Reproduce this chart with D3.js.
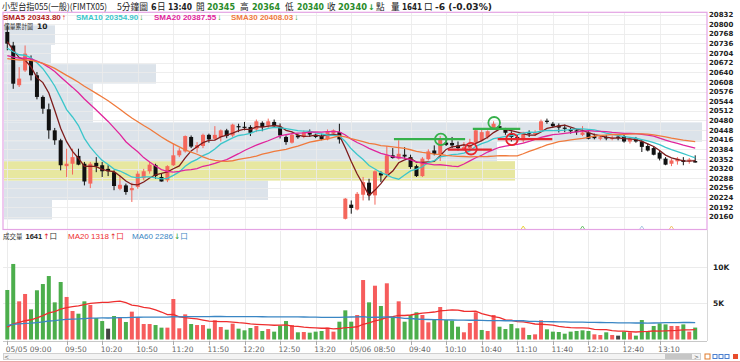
<!DOCTYPE html>
<html><head><meta charset="utf-8">
<script src="https://cdn.jsdelivr.net/npm/d3@7/dist/d3.min.js"></script>
<style>body{margin:0;background:#fff;}svg{display:block;}</style>
</head><body>
<svg id="c" width="740" height="362"></svg>
<script>
// ---------------- DATA ----------------
const opens  = [20774,20729,20597,20646,20680,20630,20558,20517,20447,20414,20328,20336,20362,20336,20270,20339,20331,20319,20308,20253,20264,20248,20259,20288,20311,20331,20292,20281,20331,20364,20377,20425,20388,20395,20432,20419,20425,20447,20430,20461,20459,20458,20450,20472,20463,20475,20458,20425,20406,20430,20425,20444,20432,20428,20417,20436,20441,
                20153,20200,20184,20233,20273,20231,20306,20303,20364,20353,20366,20358,20328,20295,20351,20380,20368,20406,20405,20397,20384,20388,20406,20414,20425,20452,20461,20450,20436,20425,20414,20441,20436,20447,20479,20469,20463,20456,20450,20447,20432,20439,20428,20419,20425,20420,20426,20428,20410,20421,20410,20395,20388,20373,20353,20336,20344,20348,20344,20345];
const highs  = [20796,20741,20657,20729,20696,20641,20563,20536,20455,20419,20386,20386,20386,20342,20342,20358,20342,20331,20314,20297,20270,20273,20311,20319,20342,20336,20303,20331,20403,20388,20430,20430,20408,20436,20436,20461,20450,20452,20469,20469,20475,20464,20483,20477,20486,20483,20470,20430,20439,20436,20447,20450,20436,20436,20450,20450,20469,
                20222,20214,20242,20292,20286,20314,20311,20395,20388,20414,20391,20366,20333,20358,20384,20397,20428,20425,20425,20410,20408,20419,20452,20450,20447,20477,20475,20455,20444,20432,20442,20447,20447,20483,20486,20475,20470,20466,20455,20452,20461,20444,20436,20432,20432,20430,20432,20432,20425,20425,20417,20403,20395,20380,20358,20353,20358,20358,20355,20364];
const lows   = [20713,20585,20591,20641,20613,20550,20502,20419,20399,20314,20292,20300,20331,20264,20255,20308,20292,20295,20248,20248,20233,20209,20253,20281,20303,20286,20277,20275,20328,20358,20373,20388,20373,20388,20406,20414,20410,20421,20425,20441,20447,20428,20441,20444,20455,20455,20420,20399,20403,20419,20421,20425,20421,20414,20414,20430,20403,
                20151,20170,20181,20214,20214,20200,20275,20297,20353,20350,20353,20319,20292,20292,20347,20364,20345,20395,20388,20380,20380,20380,20403,20410,20419,20450,20450,20432,20410,20408,20406,20425,20428,20444,20469,20455,20440,20441,20436,20432,20428,20417,20417,20414,20414,20414,20414,20406,20403,20406,20375,20377,20364,20347,20331,20328,20333,20331,20336,20340];
const closes = [20735,20602,20619,20702,20630,20558,20519,20447,20414,20331,20336,20358,20333,20277,20336,20328,20311,20311,20262,20266,20242,20255,20303,20311,20333,20295,20277,20328,20364,20380,20428,20393,20398,20432,20417,20432,20447,20428,20466,20458,20455,20439,20477,20458,20477,20461,20430,20408,20432,20424,20441,20433,20425,20417,20444,20447,20417,
                20220,20189,20236,20275,20231,20311,20297,20364,20355,20369,20360,20325,20295,20353,20377,20369,20420,20399,20397,20388,20391,20397,20447,20441,20444,20469,20455,20439,20425,20417,20440,20436,20438,20477,20475,20461,20456,20452,20444,20441,20440,20419,20421,20424,20420,20422,20422,20410,20419,20410,20392,20380,20366,20353,20333,20347,20353,20342,20350,20340];
const volumes = [6810,10390,5250,6260,4150,6770,7630,8730,5110,7910,5850,3920,3550,5250,4750,2960,2540,1490,3230,3090,2410,3830,3090,2130,2130,1990,1630,1630,5570,1540,3460,2130,1990,1990,1490,2640,1720,1350,2180,1490,1260,1580,1860,1170,1440,1080,1900,2540,1990,990,1030,940,1080,1170,1630,1080,2450,
                 4010,2450,3370,8180,5110,7400,4610,7730,3140,5250,2450,3370,3740,3370,2360,2730,4470,2680,2590,1760,990,2270,3740,1310,1170,3370,1760,1440,2130,1540,1630,620,710,2640,1400,1080,1030,800,1080,1170,1260,1170,710,620,990,620,530,1080,990,530,2680,1170,1860,2220,2080,1860,1860,2080,1080,1641];

const tickIndex  = [0,10,16,22,28,34,40,46,52,58,68,74,80,86,92,98,104,110];
const tickLabels = ["05/05 09:00","09:50","10:20","10:50","11:20","11:50","12:20","12:50","13:20","05/06 08:50","09:40","10:10","10:40","11:10","11:40","12:10","12:40","13:10"];
const priceTicks = [20160,20192,20224,20256,20288,20320,20352,20384,20416,20448,20480,20512,20544,20576,20608,20640,20672,20704,20736,20768,20800,20832];
const volTicks = [5000,10000];
const volTickLabels = ["5K","10K"];

const smaPeriods = [5,10,20,30];
const smaSeeds   = [20744,20718,20693,20684];
const smaColors  = ["#7e1d1d","#3cc6cb","#e0259c","#f07a3c"];
const smaLegend  = ["SMA5 20343.80","SMA10 20354.90","SMA20 20387.55","SMA30 20408.03"];
const smaLegendText = ["#b01818","#3cc6cb","#e0259c","#f07a3c"];
const smaArrows  = ["↑","↓","↓","↓"];

const volMaPeriods = [20,60];
const volMaSeeds   = [1432,1858];
const volMaColors  = ["#ee2e2e","#3a86c4"];

const profileVolume = [48,264,511,493,698,89,89,152,47,51]; // bottom bin -> top bin

const hLines = [
  {from:65.2,to:77.2,price:20418,color:"#35b04a"},
  {from:74.3,to:81.7,price:20383,color:"#e8262c"},
  {from:78.5,to:86.5,price:20452,color:"#35b04a"},
  {from:82.7,to:91.9,price:20418,color:"#e8262c"}
];
const circles = [
  {i:73.1,price:20417,color:"#35b04a"},
  {i:78.2,price:20386,color:"#e8262c"},
  {i:82.1,price:20472,color:"#35b04a"},
  {i:85.1,price:20417,color:"#e8262c"}
];
const markerIdx = [87,97,107,112];
const markerColors = ["#e8d23c","#6cc46c","#a9c8e0","#f0c46c"];

// ---------------- SCALES ----------------
const svg = d3.select("#c");
const x  = d3.scaleLinear().domain([0,116]).range([7.3,695.2]);
const y  = d3.scaleLinear().domain([20160,20832]).range([216.7,14.5]);
const yv = d3.scaleLinear().domain([0,10000]).range([339.5,266.8]);

const UP="#f4675c", DOWN="#111111";
const GRID="#ebebeb";

function sma(arr,n,seed){
  return arr.map((_,i)=>{let s=0;for(let k=i-n+1;k<=i;k++) s+= k>=0?arr[k]:seed; return s/n;});
}

// ---------------- MAIN PANEL ----------------
const defs = svg.append("defs");
defs.append("clipPath").attr("id","mainClip").append("rect").attr("x",3.5).attr("y",12.8).attr("width",703.5).attr("height",216.4);
const main = svg.append("g").attr("clip-path","url(#mainClip)");

// volume profile
const lo = d3.min(lows), hi = d3.max(highs), step=(hi-lo)/profileVolume.length;
const curBin = Math.floor((closes[closes.length-1]-lo)/step);
const pw = d3.scaleLinear().domain([0,d3.max(profileVolume)]).range([0,698]);
main.selectAll("rect.prof").data(profileVolume).join("rect")
  .attr("x",4).attr("y",(d,b)=>y(lo+(b+1)*step)).attr("height",(d,b)=>y(lo+b*step)-y(lo+(b+1)*step))
  .attr("width",d=>pw(d)).attr("fill",(d,b)=>b===curBin?"#e7e7a0":"#dce3ea");

// grid
main.selectAll("line.hg").data(priceTicks).join("line")
  .attr("x1",3).attr("x2",707).attr("y1",d=>Math.round(y(d))+0.5).attr("y2",d=>Math.round(y(d))+0.5)
  .attr("stroke",GRID).attr("stroke-width",1).attr("opacity",0.85);
main.selectAll("line.vg").data(tickIndex).join("line")
  .attr("x1",d=>Math.round(x(d))+0.5).attr("x2",d=>Math.round(x(d))+0.5).attr("y1",12).attr("y2",230)
  .attr("stroke",GRID).attr("stroke-width",1).attr("opacity",0.85);

// candles
const idx = d3.range(closes.length);
const cg = main.append("g");
cg.selectAll("line.wick").data(idx).join("line")
  .attr("x1",i=>x(i)).attr("x2",i=>x(i)).attr("y1",i=>y(highs[i])).attr("y2",i=>y(lows[i]))
  .attr("stroke",i=>closes[i]>opens[i]?UP:DOWN).attr("stroke-width",1);
cg.selectAll("rect.body").data(idx).join("rect")
  .attr("x",i=>x(i)-2).attr("width",4)
  .attr("y",i=>y(Math.max(opens[i],closes[i])))
  .attr("height",i=>Math.max(1.2,y(Math.min(opens[i],closes[i]))-y(Math.max(opens[i],closes[i]))))
  .attr("fill",i=>closes[i]>opens[i]?UP:DOWN);

// SMA lines
smaPeriods.forEach((n,k)=>{
  const vals = sma(closes,n,smaSeeds[k]);
  main.append("path").datum(vals)
    .attr("d",d3.line().x((d,i)=>x(i)).y(d=>y(d)))
    .attr("fill","none").attr("stroke",smaColors[k]).attr("stroke-width",1.3);
});

// annotations
main.selectAll("line.hl").data(hLines).join("line")
  .attr("x1",d=>x(d.from)).attr("x2",d=>x(d.to)).attr("y1",d=>y(d.price)).attr("y2",d=>y(d.price))
  .attr("stroke",d=>d.color).attr("stroke-width",2.2);
main.selectAll("circle.ann").data(circles).join("circle")
  .attr("cx",d=>x(d.i)).attr("cy",d=>y(d.price)).attr("r",5.8)
  .attr("fill","none").attr("stroke",d=>d.color).attr("stroke-width",1.8);

// small markers at bottom of main panel
main.selectAll("path.mk").data(markerIdx).join("path")
  .attr("d",i=>`M${x(i)-2},229 L${x(i)},226 L${x(i)+2},229`)
  .attr("fill","none").attr("stroke",(d,k)=>markerColors[k]).attr("stroke-width",1);

// main border
svg.append("rect").attr("x",3).attr("y",12.3).attr("width",704).attr("height",217.2)
  .attr("fill","none").attr("stroke","#e4a4e4").attr("stroke-width",1.2);

// price axis labels
svg.selectAll("text.py").data(priceTicks).join("text")
  .attr("x",709).attr("y",d=>y(d)+2.6).text(d=>d)
  .attr("font-family","DejaVu Sans").attr("font-weight","bold").attr("font-size",7).attr("fill","#222");

// profile label
svg.append("text").attr("x",4).attr("y",28.5).text("價量累計圖").attr("font-family","Noto Sans CJK TC")
  .attr("font-size",6.5).attr("fill","#333").attr("textLength",29).attr("lengthAdjust","spacingAndGlyphs");
svg.append("text").attr("x",37).attr("y",28.5).text("10").attr("font-family","DejaVu Sans").attr("font-weight","bold")
  .attr("font-size",7.5).attr("fill","#222");

// SMA legend
const legX=[3,76,154,231];
smaLegend.forEach((t,k)=>{
  const tx = svg.append("text").attr("x",legX[k]).attr("y",19.5).attr("font-family","Liberation Sans").attr("font-weight","bold").attr("font-size",8);
  tx.append("tspan").attr("fill",smaLegendText[k]).text(t);
  tx.append("tspan").attr("fill",smaArrows[k]==="↑"?"#e02020":"#1f9a2a").attr("dx",1).text(smaArrows[k]);
});

// ---------------- TITLE ----------------
const T = (txt,xx,opt={})=>{
  const t=svg.append("text").attr("x",xx).attr("y",opt.y||10).text(txt)
   .attr("font-family",opt.cjk?"Noto Sans CJK TC":"DejaVu Sans")
   .attr("font-weight",opt.bold?"bold":"normal").attr("font-size",opt.size||8)
   .attr("fill",opt.color||"#222");
  if(opt.len) t.attr("textLength",opt.len).attr("lengthAdjust","spacingAndGlyphs");
  return t;
};
T("小型台指055(一般)(FIMTX05)",2,{cjk:true,size:8.6,len:105});
T("5分鐘圖",117,{cjk:true,size:8.6,len:31});
T("6",151,{bold:true});
T("日",157,{cjk:true,size:8.6});
T("13:40",168,{bold:true,len:24});
T("開",196,{cjk:true,size:8.6});
T("20345",207,{bold:true,color:"#2a8c2a",len:28});
T("高",240,{cjk:true,size:8.6});
T("20364",252,{bold:true,color:"#2a8c2a",len:28});
T("低",285,{cjk:true,size:8.6});
T("20340",297,{bold:true,color:"#2a8c2a",len:27});
T("收",327,{cjk:true,size:8.6});
T("20340",338,{bold:true,color:"#2a8c2a",len:29});
T("↓",368,{bold:true,color:"#1f9a2a"});
T("點",376,{cjk:true,size:8.6});
T("量",391,{cjk:true,size:8.6});
T("1641",402,{bold:true,len:20});
T("口",424,{cjk:true,size:8.6});
T("-6 (-0.03%)",435,{bold:true,len:57});

// ---------------- VOLUME PANEL ----------------
const vg = svg.append("g");
vg.selectAll("line.vvg").data(tickIndex).join("line")
  .attr("x1",d=>Math.round(x(d))+0.5).attr("x2",d=>Math.round(x(d))+0.5).attr("y1",231).attr("y2",341)
  .attr("stroke",GRID);
vg.selectAll("line.vhg").data(volTicks).join("line")
  .attr("x1",3).attr("x2",707).attr("y1",d=>Math.round(yv(d))+0.5).attr("y2",d=>Math.round(yv(d))+0.5)
  .attr("stroke",GRID);
vg.append("line").attr("x1",707.5).attr("x2",707.5).attr("y1",230).attr("y2",341).attr("stroke","#d8d8d8");

const volColor = i=>{
  const ref = i===0?opens[0]:closes[i-1];
  return closes[i]>ref?"#f65c5c":(closes[i]<ref?"#4cae4c":"#444");
};
vg.selectAll("rect.vol").data(idx).join("rect")
  .attr("x",i=>x(i)-2).attr("width",4).attr("y",i=>yv(volumes[i])).attr("height",i=>yv(0)-yv(volumes[i]))
  .attr("fill",volColor);

volMaPeriods.forEach((n,k)=>{
  const vals = sma(volumes,n,volMaSeeds[k]);
  vg.append("path").datum(vals).attr("d",d3.line().x((d,i)=>x(i)).y(d=>yv(d)))
    .attr("fill","none").attr("stroke",volMaColors[k]).attr("stroke-width",1.3);
});

// volume axis labels
svg.selectAll("text.vy").data(volTicks).join("text")
  .attr("x",713).attr("y",d=>yv(d)+3).text((d,k)=>volTickLabels[k])
  .attr("font-family","DejaVu Sans").attr("font-weight","bold").attr("font-size",7.5).attr("fill","#222");

// volume legend
const vl1 = svg.append("text").attr("x",3).attr("y",238.5).attr("font-size",7.5);
vl1.append("tspan").attr("font-family","Noto Sans CJK TC").attr("font-size",6.5).attr("fill","#333").text("成交量");
vl1.append("tspan").attr("font-family","Liberation Sans").attr("font-weight","bold").attr("fill","#222").attr("dx",3).text("1641");
vl1.append("tspan").attr("font-family","DejaVu Sans").attr("fill","#e02020").attr("dx",1).text("↑");
vl1.append("tspan").attr("font-family","Noto Sans CJK TC").attr("fill","#333").text("口");
const vl2 = svg.append("text").attr("x",68).attr("y",238.5).attr("font-size",8).attr("font-family","Liberation Sans");
vl2.append("tspan").attr("fill","#ee2e2e").text("MA20 1318");
vl2.append("tspan").attr("font-family","DejaVu Sans").attr("fill","#e02020").attr("dx",1).attr("font-size",7.5).text("↑");
vl2.append("tspan").attr("font-family","Noto Sans CJK TC").attr("fill","#ee2e2e").attr("font-size",7.5).text("口");
const vl3 = svg.append("text").attr("x",132).attr("y",238.5).attr("font-size",8).attr("font-family","Liberation Sans");
vl3.append("tspan").attr("fill","#3a86c4").text("MA60 2286");
vl3.append("tspan").attr("font-family","DejaVu Sans").attr("fill","#1f9a2a").attr("dx",1).attr("font-size",7.5).text("↓");
vl3.append("tspan").attr("font-family","Noto Sans CJK TC").attr("fill","#3a86c4").attr("font-size",7.5).text("口");

// x axis
svg.append("line").attr("x1",3).attr("x2",707).attr("y1",341.5).attr("y2",341.5).attr("stroke","#c8c8c8");
svg.selectAll("line.xt").data(tickIndex).join("line")
  .attr("x1",d=>Math.round(x(d))+0.5).attr("x2",d=>Math.round(x(d))+0.5).attr("y1",341).attr("y2",345)
  .attr("stroke","#aaa");
svg.selectAll("text.xl").data(tickIndex).join("text")
  .attr("x",d=>x(d)-1.5).attr("y",352).text((d,k)=>tickLabels[k])
  .attr("font-family","DejaVu Sans").attr("font-size",7.5).attr("fill","#666");

// scrollbar
svg.append("rect").attr("x",3.5).attr("y",353.5).attr("width",697).attr("height",6).attr("fill","#f3f3f3").attr("stroke","#d0d0d0");
svg.append("rect").attr("x",665).attr("y",354).attr("width",27).attr("height",5).attr("fill","#c6c6c6");
svg.append("text").attr("x",4).attr("y",359).text("<").attr("font-family","DejaVu Sans").attr("font-size",6).attr("fill","#555");
svg.append("text").attr("x",694).attr("y",359).text(">").attr("font-family","DejaVu Sans").attr("font-size",6).attr("fill","#555");
svg.append("rect").attr("x",705).attr("y",354).attr("width",5).attr("height",5).attr("fill","#fff").attr("stroke","#e07a2a");
[713,719,725].forEach(px=>svg.append("rect").attr("x",px).attr("y",354.5).attr("width",4).attr("height",4).attr("fill","none").attr("stroke","#4a7fd0"));
svg.append("rect").attr("x",733).attr("y",354).attr("width",5).attr("height",5).attr("fill","#e84c2c");
svg.append("line").attr("x1",0).attr("x2",740).attr("y1",361.5).attr("y2",361.5).attr("stroke","#e8a8a8");
</script>
</body></html>
